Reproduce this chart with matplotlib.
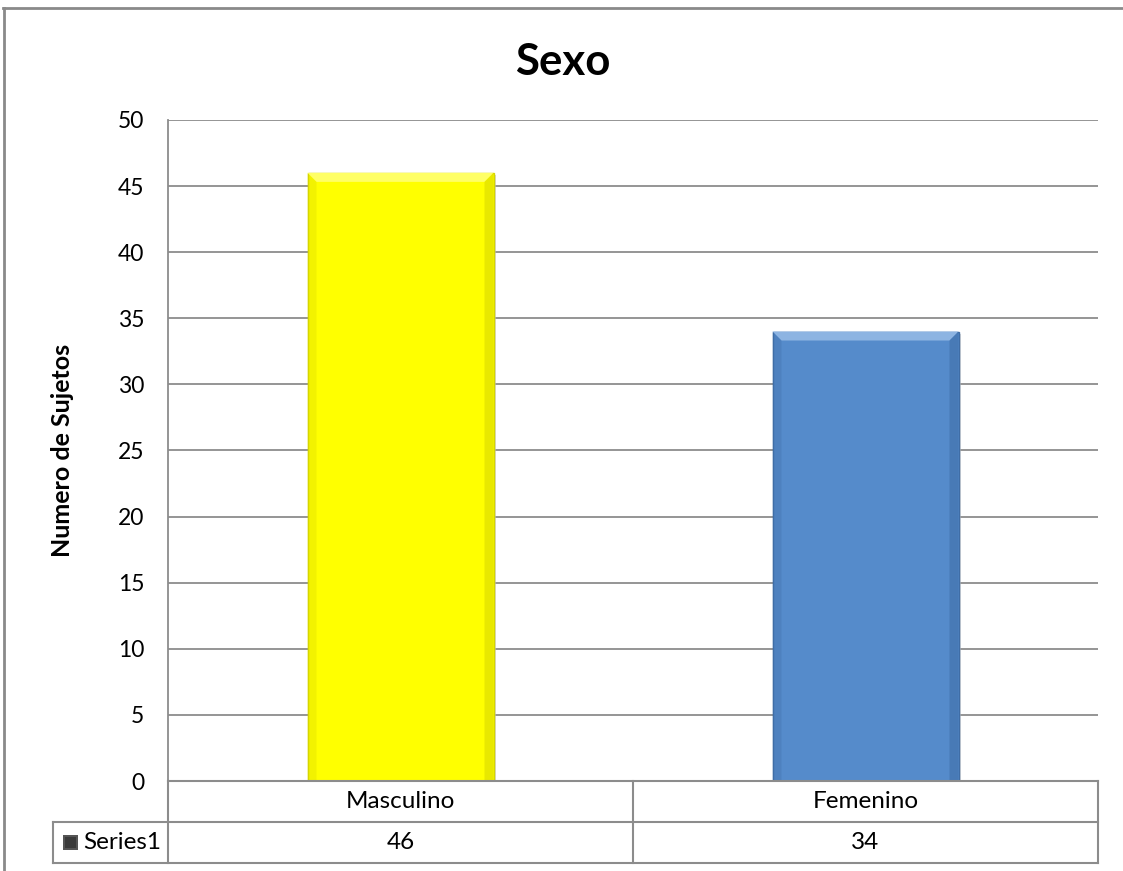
import matplotlib
matplotlib.use("Agg")
import matplotlib.pyplot as plt
from matplotlib.lines import Line2D
from matplotlib.patches import Rectangle, Polygon

# data
categories = ["Masculino", "Femenino"]
values = [46, 34]
series_name = "Series1"
yticks = list(range(0, 51, 5))
title = "Sexo"
ylabel = "Numero de Sujetos"

bar_colors = ["#FFFF00", "#558BCB"]
light_colors = ["#FFFF66", "#8DB4E2"]
dark_colors = ["#D6D600", "#3F6DA6"]

W, H = 1123, 871
plt.rcParams['font.family'] = ['Lato', 'DejaVu Sans']
GRAY = "#8c8c8c"

fig = plt.figure(figsize=(W / 100, H / 100), dpi=100)


def fx(px):
    return px / W


def fy(py):
    return 1 - py / H


# plot area in pixels
L, R, T, B = 168, 1098, 120, 781
ax = fig.add_axes([fx(L), fy(B), fx(R) - fx(L), fy(T) - fy(B)])
ax.set_xlim(-0.5, len(categories) - 0.5)
ax.set_ylim(0, 50)
ax.set_yticks(yticks)
ax.set_xticks([])
ax.yaxis.grid(True, color=GRAY, lw=1.3)
ax.set_axisbelow(True)
ax.tick_params(axis='y', length=0, labelsize=16.5, pad=17)
for s in ['top', 'right', 'bottom']:
    ax.spines[s].set_visible(False)
ax.spines['left'].set_color(GRAY)
ax.spines['left'].set_linewidth(1.3)

# bars with a simple bevel look
px_x = (len(categories)) / (R - L)
px_y = 50 / (B - T)
bw = 0.4
bars = ax.bar(range(len(categories)), values, width=bw, color=bar_colors,
              edgecolor=dark_colors, linewidth=1.0, zorder=3)
for b, lc, dc in zip(bars, light_colors, dark_colors):
    x0, x1 = b.get_x(), b.get_x() + b.get_width()
    top = b.get_height()
    dx, dy = 9 * px_x, 9 * px_y
    # shadow
    ax.add_patch(Rectangle((x0 + 2 * px_x, 0), b.get_width(), top - 2 * px_y,
                           color="#bbbbbb", alpha=0.6, zorder=2, lw=0))
    ax.add_patch(Polygon([(x0, top), (x1, top), (x1 - dx, top - dy), (x0 + dx, top - dy)],
                         closed=True, color=lc, lw=0, zorder=4))
    ax.add_patch(Polygon([(x0, top), (x0 + dx, top - dy), (x0 + dx, 0), (x0, 0)],
                         closed=True, color=dc, alpha=0.3, lw=0, zorder=4))
    ax.add_patch(Polygon([(x1, top), (x1 - dx, top - dy), (x1 - dx, 0), (x1, 0)],
                         closed=True, color=dc, alpha=0.55, lw=0, zorder=4))

# title and y label
fig.text(fx(563), fy(62), title, ha='center', va='center', fontsize=31.5, fontweight='bold')
fig.text(fx(62), fy(450), ylabel, ha='center', va='center', rotation=90,
         fontsize=18, fontweight='bold')

# data table
row1, row2, row3 = B, 822, 863
col_edges = [L + i * (R - L) / len(categories) for i in range(len(categories) + 1)]


def hline(y, x0, x1):
    fig.add_artist(Line2D([fx(x0), fx(x1)], [fy(y), fy(y)], color=GRAY, lw=1.5))


def vline(x, y0, y1):
    fig.add_artist(Line2D([fx(x), fx(x)], [fy(y0), fy(y1)], color=GRAY, lw=1.5))


hline(row1, L, R)
hline(row2, 53, R)
hline(row3, 53, R)
for x in col_edges:
    vline(x, row1, row3)
vline(53, row2, row3)

for i, (c, v) in enumerate(zip(categories, values)):
    cx = (col_edges[i] + col_edges[i + 1]) / 2
    fig.text(fx(cx), fy((row1 + row2) / 2), c, ha='center', va='center', fontsize=17.5)
    fig.text(fx(cx), fy((row2 + row3) / 2), str(v), ha='center', va='center', fontsize=17.5)

# legend key in table
fig.add_artist(Rectangle((fx(63), fy(850)), fx(15), 15 / H, color="#555555", lw=0))
fig.add_artist(Rectangle((fx(65), fy(848)), fx(11), 11 / H, color="#3a3a3a", lw=0))
fig.text(fx(83), fy((row2 + row3) / 2), series_name, ha='left', va='center', fontsize=17.5)

# outer frame
fig.add_artist(Line2D([fx(3.5), fx(3.5)], [fy(8), fy(H)], color="#8a8a8a", lw=2))
fig.add_artist(Line2D([fx(3), fx(W)], [fy(8), fy(8)], color="#8a8a8a", lw=2))

fig.savefig("out.png", dpi=100)
